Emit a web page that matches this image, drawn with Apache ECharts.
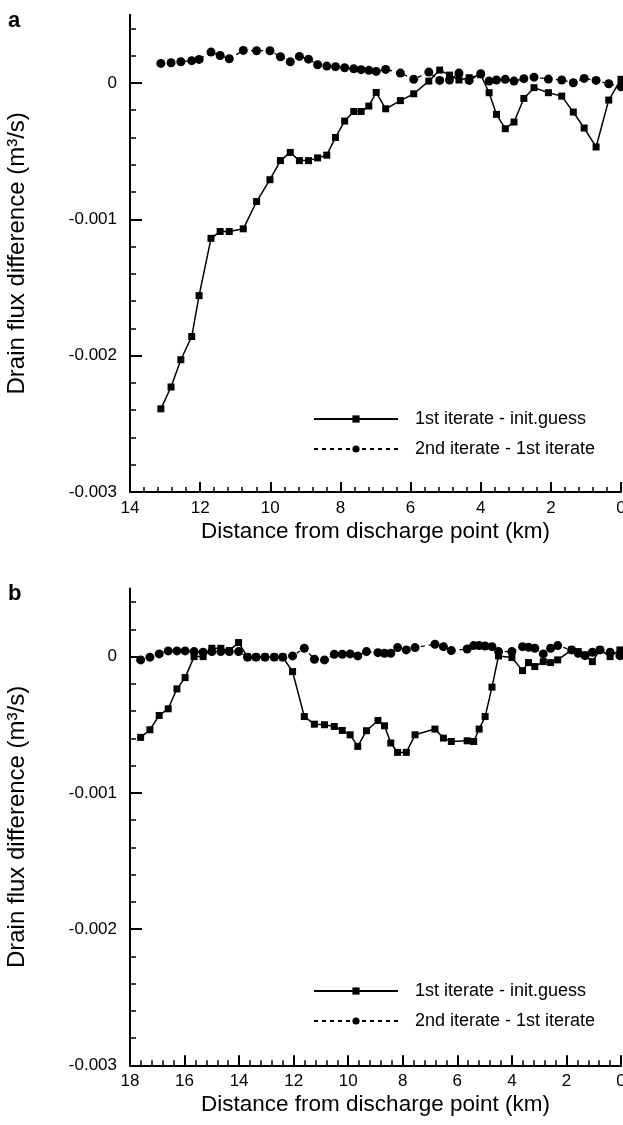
<!DOCTYPE html>
<html>
<head>
<meta charset="utf-8">
<script src="https://cdn.jsdelivr.net/npm/echarts@6/dist/echarts.min.js"></script>
<style>
html,body{margin:0;padding:0;background:#fff;}
#chart{width:623px;height:1125px;}
</style>
</head>
<body>
<div id="chart"></div>
<script>
// ---- Data ----
const seriesNames = ['1st iterate - init.guess', '2nd iterate - 1st iterate'];
const xTitle = 'Distance from discharge point (km)';
const yTitle = 'Drain flux difference (m\u00b3/s)';
const panelLabels = ['a', 'b'];
const yMajorTicks = [-0.003, -0.002, -0.001, 0];
const yMinorTicks = [-0.0028, -0.0026, -0.0024, -0.0022, -0.0018, -0.0016, -0.0014, -0.0012,
  -0.0008, -0.0006, -0.0004, -0.0002, 0.0002, 0.0004];

// Panel a
const kmA = [13.12, 12.83, 12.55, 12.24, 12.03, 11.69, 11.43, 11.17, 10.77, 10.39, 10.01, 9.71, 9.43, 9.17,
  8.91, 8.65, 8.39, 8.14, 7.88, 7.62, 7.41, 7.19, 6.98, 6.71, 6.29, 5.91, 5.48, 5.17, 4.89, 4.62, 4.33,
  4.00, 3.76, 3.55, 3.30, 3.05, 2.77, 2.48, 2.07, 1.69, 1.36, 1.05, 0.71, 0.35, 0.0];
const firstA = [-0.00239, -0.00223, -0.00203, -0.00186, -0.00156, -0.00114, -0.00109, -0.00109, -0.00107,
  -0.00087, -0.00071, -0.00057, -0.00051, -0.00057, -0.00057, -0.00055, -0.00053, -0.00040, -0.00028,
  -0.00021, -0.00021, -0.00017, -0.00007, -0.00019, -0.00013, -0.00008, 0.000013, 0.000094, 0.000057,
  0.000021, 0.000038, 0.00006, -0.000072, -0.000231, -0.000336, -0.000287, -0.000114, -0.000035,
  -0.000072, -0.000097, -0.000214, -0.000331, -0.00047, -0.000126, 0.000026];
const secondA = [0.000143, 0.000148, 0.000155, 0.000163, 0.000172, 0.000226, 0.000201, 0.000177, 0.000238,
  0.000236, 0.000236, 0.000192, 0.000155, 0.000194, 0.000174, 0.000133, 0.000123, 0.000119, 0.000111,
  0.000104, 0.000097, 0.000092, 0.000084, 0.000099, 0.000072, 0.000026, 0.000079, 0.000018, 0.000021,
  0.000072, 0.000018, 0.000067, 0.000013, 0.000021, 0.000026, 0.000013, 0.000031, 0.000042, 0.000028,
  0.000021, 0.000001, 0.000033, 0.000018, -0.000006, -0.000028];

// Panel b
const kmB = [17.61, 17.27, 16.93, 16.60, 16.28, 15.98, 15.65, 15.32, 15.00, 14.67, 14.36, 14.02, 13.69,
  13.38, 13.05, 12.71, 12.40, 12.04, 11.61, 11.24, 10.87, 10.51, 10.22, 9.93, 9.65, 9.33, 8.91, 8.67,
  8.44, 8.19, 7.87, 7.55, 6.82, 6.51, 6.22, 5.64, 5.40, 5.20, 4.98, 4.73, 4.49, 4.00, 3.61, 3.39, 3.16,
  2.85, 2.58, 2.32, 1.81, 1.57, 1.32, 1.05, 0.77, 0.40, 0.04];
const firstB = [-0.000593, -0.000537, -0.000432, -0.000383, -0.000237, -0.000154, 0, 0, 0.000061, 0.000061,
  0.000044, 0.000103, -0.000003, -0.000003, -0.000003, -0.000003, -0.000003, -0.00011, -0.00044,
  -0.000496, -0.0005, -0.000513, -0.000542, -0.000574, -0.000659, -0.000544, -0.000469, -0.000508,
  -0.000634, -0.000703, -0.000703, -0.000574, -0.000532, -0.000598, -0.000623, -0.000618, -0.000623,
  -0.000532, -0.00044, -0.000224, 0.000005, -0.000007, -0.000103, -0.000044, -0.000073, -0.000037,
  -0.000044, -0.000024, 0.000049, 0.000037, 0.000012, -0.000037, 0.000049, 0, 0.000049];
const secondB = [-0.000024, -0.000004, 0.00002, 0.000042, 0.000042, 0.000042, 0.000037, 0.000032, 0.000037,
  0.000037, 0.000037, 0.000037, -0.000004, -0.000004, -0.000004, -0.000004, -0.000004, 0.000005,
  0.000061, -0.000019, -0.000024, 0.000017, 0.000017, 0.00002, 0.000005, 0.000037, 0.000029, 0.000025,
  0.000025, 0.000066, 0.000049, 0.000066, 0.000091, 0.000073, 0.000044, 0.000056, 0.000081, 0.000081,
  0.000078, 0.000073, 0.000037, 0.000037, 0.000073, 0.000069, 0.000061, 0.00002, 0.000061, 0.000081,
  0.000049, 0.000025, 0.000007, 0.000032, 0.000049, 0.000032, 0.000007];
const xMaxA = 14, xMaxB = 18;

// ---- Build chart ----
const FONT = '"Liberation Sans", Arial, Helvetica, sans-serif';
const pair = (xs, ys) => xs.map((x, i) => [x, ys[i]]);

const boxA = {left: 130, right: 2, top: 14.7, bottom: 633};
const boxB = {left: 130, right: 2, top: 588.5, bottom: 59.7};
const mkGrid = b => Object.assign({containLabel: false, outerBoundsMode: 'none'}, b);
// grids 0,1: data panels; grids 2,3: same boxes, carrying only the y minor ticks
const grids = [mkGrid(boxA), mkGrid(boxB), mkGrid(boxA), mkGrid(boxB)];

function xAxisFor(gi, max) {
  return {
    type: 'value', gridIndex: gi, min: 0, max: max, interval: 2, inverse: true,
    name: xTitle, nameLocation: 'middle', nameGap: 28,
    nameTextStyle: {fontFamily: FONT, fontSize: 22.5, color: '#000'},
    axisLine: {show: true, onZero: false, lineStyle: {color: '#000', width: 2}},
    axisTick: {show: true, inside: true, length: 10, lineStyle: {color: '#000', width: 2}},
    minorTick: {show: true, splitNumber: 5, length: 5, lineStyle: {color: '#000', width: 1.5}},
    axisLabel: {fontFamily: FONT, fontSize: 17, color: '#000', margin: 8},
    splitLine: {show: false}
  };
}
function xAxisHidden(gi, max) {
  return {type: 'value', gridIndex: gi, min: 0, max: max, inverse: true, show: false};
}
function yAxisMajor(gi) {
  return {
    type: 'value', gridIndex: gi, min: -0.003, max: 0.0005, position: 'left',
    name: yTitle, nameLocation: 'middle', nameGap: 101,
    nameTextStyle: {fontFamily: FONT, fontSize: 24, color: '#000'},
    axisLine: {show: true, onZero: false, lineStyle: {color: '#000', width: 2}},
    axisTick: {show: true, inside: true, length: 12, customValues: yMajorTicks, lineStyle: {color: '#000', width: 2}},
    axisLabel: {fontFamily: FONT, fontSize: 17, color: '#000', margin: 13, customValues: yMajorTicks,
      formatter: v => (v === 0 ? '0' : String(v))},
    splitLine: {show: false}
  };
}
function yAxisMinor(gi) {
  return {
    type: 'value', gridIndex: gi, min: -0.003, max: 0.0005, position: 'left',
    axisLine: {show: false, onZero: false},
    axisTick: {show: true, inside: true, length: 6, customValues: yMinorTicks, lineStyle: {color: '#000', width: 1.5}},
    axisLabel: {show: false},
    splitLine: {show: false}
  };
}

function squareSeries(xi, yi, data) {
  return {
    name: seriesNames[0], type: 'line', xAxisIndex: xi, yAxisIndex: yi, data: data,
    symbol: 'rect', symbolSize: 7, showAllSymbol: true,
    lineStyle: {color: '#000', width: 1.5, type: 'solid'},
    itemStyle: {color: '#000'}, animation: false, z: 2
  };
}
function circleSeries(xi, yi, data) {
  return {
    name: seriesNames[1], type: 'line', xAxisIndex: xi, yAxisIndex: yi, data: data,
    symbol: 'circle', symbolSize: 9, showAllSymbol: true,
    lineStyle: {color: '#000', width: 1.3, type: [4, 4]},
    itemStyle: {color: '#000'}, animation: false, z: 3
  };
}
function legendFor(top) {
  return {
    orient: 'vertical', left: 308, top: top, itemWidth: 84, itemHeight: 9, itemGap: 10,
    selectedMode: false, data: seriesNames,
    textStyle: {fontFamily: FONT, fontSize: 18, color: '#000', lineHeight: 20, padding: [0, 0, 0, 12]}
  };
}

const option = {
  backgroundColor: '#fff',
  animation: false,
  title: [
    {text: panelLabels[0], left: 3, top: 5, textStyle: {fontFamily: FONT, fontSize: 22, fontWeight: 'bold', color: '#000'}},
    {text: panelLabels[1], left: 3, top: 578, textStyle: {fontFamily: FONT, fontSize: 22, fontWeight: 'bold', color: '#000'}}
  ],
  legend: [legendFor(404), legendFor(976)],
  grid: grids,
  xAxis: [xAxisFor(0, xMaxA), xAxisFor(1, xMaxB), xAxisHidden(2, xMaxA), xAxisHidden(3, xMaxB)],
  yAxis: [yAxisMajor(0), yAxisMajor(1), yAxisMinor(2), yAxisMinor(3)],
  series: [
    squareSeries(0, 0, pair(kmA, firstA)),
    circleSeries(0, 0, pair(kmA, secondA)),
    squareSeries(1, 1, pair(kmB, firstB)),
    circleSeries(1, 1, pair(kmB, secondB))
  ]
};

const chart = echarts.init(document.getElementById('chart'), null, {renderer: 'canvas'});
chart.setOption(option);
</script>
</body>
</html>
